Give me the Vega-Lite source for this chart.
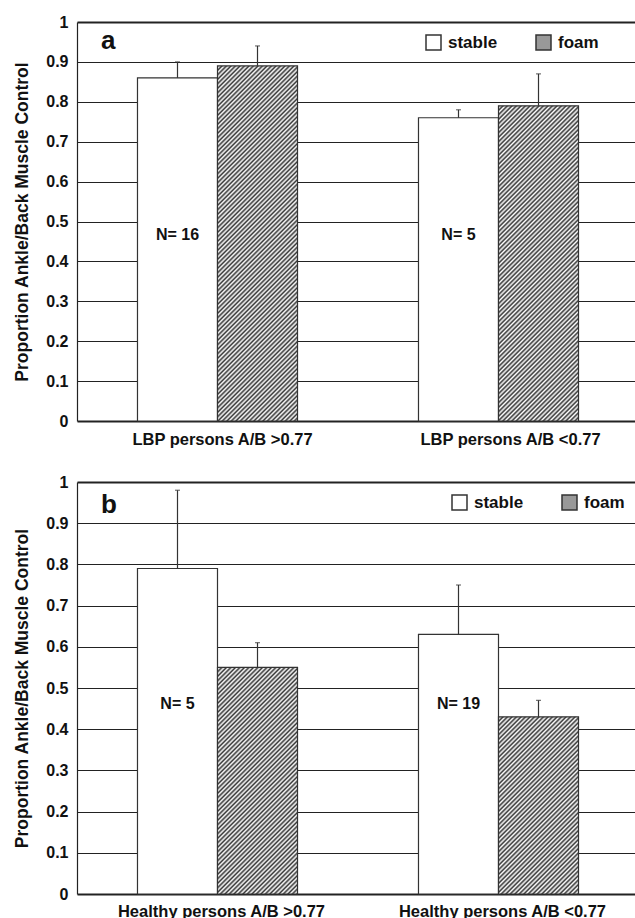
{
"$schema": "https://vega.github.io/schema/vega-lite/v6.json",
"padding": {"left": 13, "top": 14, "right": 0, "bottom": 0},
"background": "white",
"spacing": 26,
"config": {"view": {"stroke": null}, "font": "Liberation Sans", "axis": {"labelFont": "Liberation Sans", "titleFont": "Liberation Sans", "labelLimit": 400}, "legend": {"labelFont": "Liberation Sans"}, "text": {"font": "Liberation Sans"}},
"resolve": {"scale": {"x": "independent", "y": "independent", "fill": "independent"}, "legend": {"fill": "independent"}},
"vconcat": [
{
"width": 558, "height": 399,
"data": {"values": [
{"group": "LBP persons A/B >0.77", "condition": "stable", "mean": 0.86, "upper": 0.90, "n": "N= 16", "panel": "a"},
{"group": "LBP persons A/B >0.77", "condition": "foam", "mean": 0.89, "upper": 0.94, "panel": "a"},
{"group": "LBP persons A/B <0.77", "condition": "stable", "mean": 0.76, "upper": 0.78, "n": "N= 5", "panel": "a"},
{"group": "LBP persons A/B <0.77", "condition": "foam", "mean": 0.79, "upper": 0.87, "panel": "a"}
]},
"encoding": {
"x": {"field": "group", "type": "nominal", "scale": {"domain": ["LBP persons A/B >0.77", "LBP persons A/B <0.77"], "range": [0, 562], "paddingInner": 0, "paddingOuter": 0}, "axis": {"title": null, "domain": false, "ticks": false, "grid": false, "labelAngle": 0, "labelFontSize": 16.5, "labelFontWeight": "bold", "labelColor": "#111", "labelPadding": 10, "labelLimit": 400, "labelOffset": {"condition": {"test": "datum.value == 'LBP persons A/B <0.77'", "value": 12}, "value": 5}}},
"y": {"field": "mean", "type": "quantitative", "scale": {"domain": [0, 1], "nice": false}, "axis": {"title": "Proportion Ankle/Back Muscle Control", "values": [0, 0.1, 0.2, 0.3, 0.4, 0.5, 0.6, 0.7, 0.8, 0.9, 1], "format": ".1~f", "ticks": false, "domainColor": "#222", "domainWidth": 1.2, "grid": true, "gridColor": "#222", "gridWidth": {"condition": {"test": "datum.value == 0 || datum.value == 1", "value": 2}, "value": 1}, "labelFontSize": 16, "labelFontWeight": "bold", "labelColor": "#111", "labelPadding": 9, "titleFontSize": 17.5, "titleFontWeight": "bold", "titleColor": "#111", "titlePadding": 14}}
},
"layer": [
{"transform": [{"filter": "datum.condition == 'stable'"}], "mark": {"type": "bar", "stroke": "#333", "strokeWidth": 1.2},
 "encoding": {"xOffset": {"field": "condition", "type": "nominal", "scale": {"domain": ["stable", "foam"], "paddingInner": 0, "paddingOuter": 0.756}},
 "fill": {"field": "condition", "type": "nominal", "scale": {"domain": ["stable", "foam"], "range": ["#ffffff", "#999999"]},
 "legend": {"title": null, "orient": "none", "legendX": 348, "legendY": 12, "direction": "horizontal", "symbolType": "square", "symbolSize": 225, "labelFontSize": 17, "labelFontWeight": "bold", "labelColor": "#111", "labelOffset": 6, "columnPadding": 35, "padding": 0,
 "encode": {"symbols": {"stroke": {"value": "#222"}, "strokeWidth": {"value": 1.2}, "fill": {"condition": {"test": "datum.value === 'foam'", "value": {"gradient": "linear", "x1": 0, "y1": 0, "x2": 15, "y2": 15, "stops": [{"offset":0,"color":"#333"},{"offset":0.005,"color":"#fff"},{"offset":0.01,"color":"#333"},{"offset":0.015,"color":"#fff"},{"offset":0.02,"color":"#333"},{"offset":0.025,"color":"#fff"},{"offset":0.03,"color":"#333"},{"offset":0.035,"color":"#fff"},{"offset":0.04,"color":"#333"},{"offset":0.045,"color":"#fff"},{"offset":0.05,"color":"#333"},{"offset":0.055,"color":"#fff"},{"offset":0.06,"color":"#333"},{"offset":0.065,"color":"#fff"},{"offset":0.07,"color":"#333"}]}}, "value": "#ffffff"}}}}}}},
{"transform": [{"filter": "datum.condition == 'foam' && datum.group == 'LBP persons A/B >0.77'"}], "mark": {"type": "bar", "stroke": "#333", "strokeWidth": 1.2, "fill": {"gradient": "linear", "x1": 0, "y1": 0, "x2": 0.2717, "y2": 1.206, "stops": [
{"offset":0,"color":"#333"},{"offset":0.005,"color":"#fff"},{"offset":0.01,"color":"#333"},{"offset":0.015,"color":"#fff"},{"offset":0.02,"color":"#333"},{"offset":0.025,"color":"#fff"},{"offset":0.03,"color":"#333"},{"offset":0.035,"color":"#fff"},{"offset":0.04,"color":"#333"},{"offset":0.045,"color":"#fff"},{"offset":0.05,"color":"#333"},{"offset":0.055,"color":"#fff"},{"offset":0.06,"color":"#333"},{"offset":0.065,"color":"#fff"},{"offset":0.07,"color":"#333"},{"offset":0.075,"color":"#fff"},{"offset":0.08,"color":"#333"},{"offset":0.085,"color":"#fff"},{"offset":0.09,"color":"#333"},{"offset":0.095,"color":"#fff"},
{"offset":0.1,"color":"#333"},{"offset":0.105,"color":"#fff"},{"offset":0.11,"color":"#333"},{"offset":0.115,"color":"#fff"},{"offset":0.12,"color":"#333"},{"offset":0.125,"color":"#fff"},{"offset":0.13,"color":"#333"},{"offset":0.135,"color":"#fff"},{"offset":0.14,"color":"#333"},{"offset":0.145,"color":"#fff"},{"offset":0.15,"color":"#333"},{"offset":0.155,"color":"#fff"},{"offset":0.16,"color":"#333"},{"offset":0.165,"color":"#fff"},{"offset":0.17,"color":"#333"},{"offset":0.175,"color":"#fff"},{"offset":0.18,"color":"#333"},{"offset":0.185,"color":"#fff"},{"offset":0.19,"color":"#333"},{"offset":0.195,"color":"#fff"},
{"offset":0.2,"color":"#333"},{"offset":0.205,"color":"#fff"},{"offset":0.21,"color":"#333"},{"offset":0.215,"color":"#fff"},{"offset":0.22,"color":"#333"},{"offset":0.225,"color":"#fff"},{"offset":0.23,"color":"#333"},{"offset":0.235,"color":"#fff"},{"offset":0.24,"color":"#333"},{"offset":0.245,"color":"#fff"},{"offset":0.25,"color":"#333"},{"offset":0.255,"color":"#fff"},{"offset":0.26,"color":"#333"},{"offset":0.265,"color":"#fff"},{"offset":0.27,"color":"#333"},{"offset":0.275,"color":"#fff"},{"offset":0.28,"color":"#333"},{"offset":0.285,"color":"#fff"},{"offset":0.29,"color":"#333"},{"offset":0.295,"color":"#fff"},
{"offset":0.3,"color":"#333"},{"offset":0.305,"color":"#fff"},{"offset":0.31,"color":"#333"},{"offset":0.315,"color":"#fff"},{"offset":0.32,"color":"#333"},{"offset":0.325,"color":"#fff"},{"offset":0.33,"color":"#333"},{"offset":0.335,"color":"#fff"},{"offset":0.34,"color":"#333"},{"offset":0.345,"color":"#fff"},{"offset":0.35,"color":"#333"},{"offset":0.355,"color":"#fff"},{"offset":0.36,"color":"#333"},{"offset":0.365,"color":"#fff"},{"offset":0.37,"color":"#333"},{"offset":0.375,"color":"#fff"},{"offset":0.38,"color":"#333"},{"offset":0.385,"color":"#fff"},{"offset":0.39,"color":"#333"},{"offset":0.395,"color":"#fff"},
{"offset":0.4,"color":"#333"},{"offset":0.405,"color":"#fff"},{"offset":0.41,"color":"#333"},{"offset":0.415,"color":"#fff"},{"offset":0.42,"color":"#333"},{"offset":0.425,"color":"#fff"},{"offset":0.43,"color":"#333"},{"offset":0.435,"color":"#fff"},{"offset":0.44,"color":"#333"},{"offset":0.445,"color":"#fff"},{"offset":0.45,"color":"#333"},{"offset":0.455,"color":"#fff"},{"offset":0.46,"color":"#333"},{"offset":0.465,"color":"#fff"},{"offset":0.47,"color":"#333"},{"offset":0.475,"color":"#fff"},{"offset":0.48,"color":"#333"},{"offset":0.485,"color":"#fff"},{"offset":0.49,"color":"#333"},{"offset":0.495,"color":"#fff"},
{"offset":0.5,"color":"#333"},{"offset":0.505,"color":"#fff"},{"offset":0.51,"color":"#333"},{"offset":0.515,"color":"#fff"},{"offset":0.52,"color":"#333"},{"offset":0.525,"color":"#fff"},{"offset":0.53,"color":"#333"},{"offset":0.535,"color":"#fff"},{"offset":0.54,"color":"#333"},{"offset":0.545,"color":"#fff"},{"offset":0.55,"color":"#333"},{"offset":0.555,"color":"#fff"},{"offset":0.56,"color":"#333"},{"offset":0.565,"color":"#fff"},{"offset":0.57,"color":"#333"},{"offset":0.575,"color":"#fff"},{"offset":0.58,"color":"#333"},{"offset":0.585,"color":"#fff"},{"offset":0.59,"color":"#333"},{"offset":0.595,"color":"#fff"},
{"offset":0.6,"color":"#333"},{"offset":0.605,"color":"#fff"},{"offset":0.61,"color":"#333"},{"offset":0.615,"color":"#fff"},{"offset":0.62,"color":"#333"},{"offset":0.625,"color":"#fff"},{"offset":0.63,"color":"#333"},{"offset":0.635,"color":"#fff"},{"offset":0.64,"color":"#333"},{"offset":0.645,"color":"#fff"},{"offset":0.65,"color":"#333"},{"offset":0.655,"color":"#fff"},{"offset":0.66,"color":"#333"},{"offset":0.665,"color":"#fff"},{"offset":0.67,"color":"#333"},{"offset":0.675,"color":"#fff"},{"offset":0.68,"color":"#333"},{"offset":0.685,"color":"#fff"},{"offset":0.69,"color":"#333"},{"offset":0.695,"color":"#fff"},
{"offset":0.7,"color":"#333"},{"offset":0.705,"color":"#fff"},{"offset":0.71,"color":"#333"},{"offset":0.715,"color":"#fff"},{"offset":0.72,"color":"#333"},{"offset":0.725,"color":"#fff"},{"offset":0.73,"color":"#333"},{"offset":0.735,"color":"#fff"},{"offset":0.74,"color":"#333"},{"offset":0.745,"color":"#fff"},{"offset":0.75,"color":"#333"},{"offset":0.755,"color":"#fff"},{"offset":0.76,"color":"#333"},{"offset":0.765,"color":"#fff"},{"offset":0.77,"color":"#333"},{"offset":0.775,"color":"#fff"},{"offset":0.78,"color":"#333"},{"offset":0.785,"color":"#fff"},{"offset":0.79,"color":"#333"},{"offset":0.795,"color":"#fff"},
{"offset":0.8,"color":"#333"},{"offset":0.805,"color":"#fff"},{"offset":0.81,"color":"#333"},{"offset":0.815,"color":"#fff"},{"offset":0.82,"color":"#333"},{"offset":0.825,"color":"#fff"},{"offset":0.83,"color":"#333"},{"offset":0.835,"color":"#fff"},{"offset":0.84,"color":"#333"},{"offset":0.845,"color":"#fff"},{"offset":0.85,"color":"#333"},{"offset":0.855,"color":"#fff"},{"offset":0.86,"color":"#333"},{"offset":0.865,"color":"#fff"},{"offset":0.87,"color":"#333"},{"offset":0.875,"color":"#fff"},{"offset":0.88,"color":"#333"},{"offset":0.885,"color":"#fff"},{"offset":0.89,"color":"#333"},{"offset":0.895,"color":"#fff"},
{"offset":0.9,"color":"#333"},{"offset":0.905,"color":"#fff"},{"offset":0.91,"color":"#333"},{"offset":0.915,"color":"#fff"},{"offset":0.92,"color":"#333"},{"offset":0.925,"color":"#fff"},{"offset":0.93,"color":"#333"},{"offset":0.935,"color":"#fff"},{"offset":0.94,"color":"#333"},{"offset":0.945,"color":"#fff"},{"offset":0.95,"color":"#333"},{"offset":0.955,"color":"#fff"},{"offset":0.96,"color":"#333"},{"offset":0.965,"color":"#fff"},{"offset":0.97,"color":"#333"},{"offset":0.975,"color":"#fff"}
]}}, "encoding": {"xOffset": {"field": "condition", "type": "nominal"}}},
{"transform": [{"filter": "datum.condition == 'foam' && datum.group == 'LBP persons A/B <0.77'"}], "mark": {"type": "bar", "stroke": "#333", "strokeWidth": 1.2, "fill": {"gradient": "linear", "x1": 0, "y1": 0, "x2": 0.3404, "y2": 1.3412, "stops": [
{"offset":0,"color":"#333"},{"offset":0.005,"color":"#fff"},{"offset":0.01,"color":"#333"},{"offset":0.015,"color":"#fff"},{"offset":0.02,"color":"#333"},{"offset":0.025,"color":"#fff"},{"offset":0.03,"color":"#333"},{"offset":0.035,"color":"#fff"},{"offset":0.04,"color":"#333"},{"offset":0.045,"color":"#fff"},{"offset":0.05,"color":"#333"},{"offset":0.055,"color":"#fff"},{"offset":0.06,"color":"#333"},{"offset":0.065,"color":"#fff"},{"offset":0.07,"color":"#333"},{"offset":0.075,"color":"#fff"},{"offset":0.08,"color":"#333"},{"offset":0.085,"color":"#fff"},{"offset":0.09,"color":"#333"},{"offset":0.095,"color":"#fff"},
{"offset":0.1,"color":"#333"},{"offset":0.105,"color":"#fff"},{"offset":0.11,"color":"#333"},{"offset":0.115,"color":"#fff"},{"offset":0.12,"color":"#333"},{"offset":0.125,"color":"#fff"},{"offset":0.13,"color":"#333"},{"offset":0.135,"color":"#fff"},{"offset":0.14,"color":"#333"},{"offset":0.145,"color":"#fff"},{"offset":0.15,"color":"#333"},{"offset":0.155,"color":"#fff"},{"offset":0.16,"color":"#333"},{"offset":0.165,"color":"#fff"},{"offset":0.17,"color":"#333"},{"offset":0.175,"color":"#fff"},{"offset":0.18,"color":"#333"},{"offset":0.185,"color":"#fff"},{"offset":0.19,"color":"#333"},{"offset":0.195,"color":"#fff"},
{"offset":0.2,"color":"#333"},{"offset":0.205,"color":"#fff"},{"offset":0.21,"color":"#333"},{"offset":0.215,"color":"#fff"},{"offset":0.22,"color":"#333"},{"offset":0.225,"color":"#fff"},{"offset":0.23,"color":"#333"},{"offset":0.235,"color":"#fff"},{"offset":0.24,"color":"#333"},{"offset":0.245,"color":"#fff"},{"offset":0.25,"color":"#333"},{"offset":0.255,"color":"#fff"},{"offset":0.26,"color":"#333"},{"offset":0.265,"color":"#fff"},{"offset":0.27,"color":"#333"},{"offset":0.275,"color":"#fff"},{"offset":0.28,"color":"#333"},{"offset":0.285,"color":"#fff"},{"offset":0.29,"color":"#333"},{"offset":0.295,"color":"#fff"},
{"offset":0.3,"color":"#333"},{"offset":0.305,"color":"#fff"},{"offset":0.31,"color":"#333"},{"offset":0.315,"color":"#fff"},{"offset":0.32,"color":"#333"},{"offset":0.325,"color":"#fff"},{"offset":0.33,"color":"#333"},{"offset":0.335,"color":"#fff"},{"offset":0.34,"color":"#333"},{"offset":0.345,"color":"#fff"},{"offset":0.35,"color":"#333"},{"offset":0.355,"color":"#fff"},{"offset":0.36,"color":"#333"},{"offset":0.365,"color":"#fff"},{"offset":0.37,"color":"#333"},{"offset":0.375,"color":"#fff"},{"offset":0.38,"color":"#333"},{"offset":0.385,"color":"#fff"},{"offset":0.39,"color":"#333"},{"offset":0.395,"color":"#fff"},
{"offset":0.4,"color":"#333"},{"offset":0.405,"color":"#fff"},{"offset":0.41,"color":"#333"},{"offset":0.415,"color":"#fff"},{"offset":0.42,"color":"#333"},{"offset":0.425,"color":"#fff"},{"offset":0.43,"color":"#333"},{"offset":0.435,"color":"#fff"},{"offset":0.44,"color":"#333"},{"offset":0.445,"color":"#fff"},{"offset":0.45,"color":"#333"},{"offset":0.455,"color":"#fff"},{"offset":0.46,"color":"#333"},{"offset":0.465,"color":"#fff"},{"offset":0.47,"color":"#333"},{"offset":0.475,"color":"#fff"},{"offset":0.48,"color":"#333"},{"offset":0.485,"color":"#fff"},{"offset":0.49,"color":"#333"},{"offset":0.495,"color":"#fff"},
{"offset":0.5,"color":"#333"},{"offset":0.505,"color":"#fff"},{"offset":0.51,"color":"#333"},{"offset":0.515,"color":"#fff"},{"offset":0.52,"color":"#333"},{"offset":0.525,"color":"#fff"},{"offset":0.53,"color":"#333"},{"offset":0.535,"color":"#fff"},{"offset":0.54,"color":"#333"},{"offset":0.545,"color":"#fff"},{"offset":0.55,"color":"#333"},{"offset":0.555,"color":"#fff"},{"offset":0.56,"color":"#333"},{"offset":0.565,"color":"#fff"},{"offset":0.57,"color":"#333"},{"offset":0.575,"color":"#fff"},{"offset":0.58,"color":"#333"},{"offset":0.585,"color":"#fff"},{"offset":0.59,"color":"#333"},{"offset":0.595,"color":"#fff"},
{"offset":0.6,"color":"#333"},{"offset":0.605,"color":"#fff"},{"offset":0.61,"color":"#333"},{"offset":0.615,"color":"#fff"},{"offset":0.62,"color":"#333"},{"offset":0.625,"color":"#fff"},{"offset":0.63,"color":"#333"},{"offset":0.635,"color":"#fff"},{"offset":0.64,"color":"#333"},{"offset":0.645,"color":"#fff"},{"offset":0.65,"color":"#333"},{"offset":0.655,"color":"#fff"},{"offset":0.66,"color":"#333"},{"offset":0.665,"color":"#fff"},{"offset":0.67,"color":"#333"},{"offset":0.675,"color":"#fff"},{"offset":0.68,"color":"#333"},{"offset":0.685,"color":"#fff"},{"offset":0.69,"color":"#333"},{"offset":0.695,"color":"#fff"},
{"offset":0.7,"color":"#333"},{"offset":0.705,"color":"#fff"},{"offset":0.71,"color":"#333"},{"offset":0.715,"color":"#fff"},{"offset":0.72,"color":"#333"},{"offset":0.725,"color":"#fff"},{"offset":0.73,"color":"#333"},{"offset":0.735,"color":"#fff"},{"offset":0.74,"color":"#333"},{"offset":0.745,"color":"#fff"},{"offset":0.75,"color":"#333"},{"offset":0.755,"color":"#fff"},{"offset":0.76,"color":"#333"},{"offset":0.765,"color":"#fff"},{"offset":0.77,"color":"#333"},{"offset":0.775,"color":"#fff"},{"offset":0.78,"color":"#333"},{"offset":0.785,"color":"#fff"},{"offset":0.79,"color":"#333"},{"offset":0.795,"color":"#fff"},
{"offset":0.8,"color":"#333"},{"offset":0.805,"color":"#fff"},{"offset":0.81,"color":"#333"},{"offset":0.815,"color":"#fff"},{"offset":0.82,"color":"#333"},{"offset":0.825,"color":"#fff"},{"offset":0.83,"color":"#333"},{"offset":0.835,"color":"#fff"},{"offset":0.84,"color":"#333"},{"offset":0.845,"color":"#fff"},{"offset":0.85,"color":"#333"},{"offset":0.855,"color":"#fff"},{"offset":0.86,"color":"#333"},{"offset":0.865,"color":"#fff"},{"offset":0.87,"color":"#333"},{"offset":0.875,"color":"#fff"},{"offset":0.88,"color":"#333"},{"offset":0.885,"color":"#fff"}
]}}, "encoding": {"xOffset": {"field": "condition", "type": "nominal"}}},
{"mark": {"type": "rule", "color": "#333", "strokeWidth": 1.2}, "encoding": {"xOffset": {"field": "condition", "type": "nominal"}, "y": {"field": "mean", "type": "quantitative"}, "y2": {"field": "upper"}}},
{"mark": {"type": "tick", "color": "#333", "size": 5, "thickness": 1.2, "orient": "horizontal"}, "encoding": {"xOffset": {"field": "condition", "type": "nominal"}, "y": {"field": "upper", "type": "quantitative"}}},
{"transform": [{"filter": "isValid(datum.n)"}], "mark": {"type": "text", "fontSize": 16, "fontWeight": "bold", "color": "#111"}, "encoding": {"xOffset": {"field": "condition", "type": "nominal"}, "y": {"datum": 0.465}, "text": {"field": "n"}}},
{"transform": [{"filter": "datum.condition == 'stable' && datum.group == 'LBP persons A/B >0.77'"}], "mark": {"type": "text", "fontSize": 26, "fontWeight": "bold", "color": "#111", "align": "left", "baseline": "alphabetic"}, "encoding": {"x": {"field": "group", "type": "nominal", "bandPosition": 0.0854}, "y": {"datum": 0.932}, "text": {"field": "panel"}}}
]
},
{
"width": 558, "height": 412,
"data": {"values": [
{"group": "Healthy persons A/B >0.77", "condition": "stable", "mean": 0.79, "upper": 0.98, "n": "N= 5", "panel": "b"},
{"group": "Healthy persons A/B >0.77", "condition": "foam", "mean": 0.55, "upper": 0.61, "panel": "b"},
{"group": "Healthy persons A/B <0.77", "condition": "stable", "mean": 0.63, "upper": 0.75, "n": "N= 19", "panel": "b"},
{"group": "Healthy persons A/B <0.77", "condition": "foam", "mean": 0.43, "upper": 0.47, "panel": "b"}
]},
"encoding": {
"x": {"field": "group", "type": "nominal", "scale": {"domain": ["Healthy persons A/B >0.77", "Healthy persons A/B <0.77"], "range": [0, 562], "paddingInner": 0, "paddingOuter": 0}, "axis": {"title": null, "domain": false, "ticks": false, "grid": false, "labelAngle": 0, "labelFontSize": 16.5, "labelFontWeight": "bold", "labelColor": "#111", "labelPadding": 9, "labelLimit": 400, "labelOffset": 4}},
"y": {"field": "mean", "type": "quantitative", "scale": {"domain": [0, 1], "nice": false}, "axis": {"title": "Proportion Ankle/Back Muscle Control", "values": [0, 0.1, 0.2, 0.3, 0.4, 0.5, 0.6, 0.7, 0.8, 0.9, 1], "format": ".1~f", "ticks": false, "domainColor": "#222", "domainWidth": 1.2, "grid": true, "gridColor": "#222", "gridWidth": {"condition": {"test": "datum.value == 0 || datum.value == 1", "value": 2}, "value": 1}, "labelFontSize": 16, "labelFontWeight": "bold", "labelColor": "#111", "labelPadding": 9, "titleFontSize": 17.5, "titleFontWeight": "bold", "titleColor": "#111", "titlePadding": 14}}
},
"layer": [
{"transform": [{"filter": "datum.condition == 'stable'"}], "mark": {"type": "bar", "stroke": "#333", "strokeWidth": 1.2},
 "encoding": {"xOffset": {"field": "condition", "type": "nominal", "scale": {"domain": ["stable", "foam"], "paddingInner": 0, "paddingOuter": 0.756}},
 "fill": {"field": "condition", "type": "nominal", "scale": {"domain": ["stable", "foam"], "range": ["#ffffff", "#999999"]},
 "legend": {"title": null, "orient": "none", "legendX": 374, "legendY": 12, "direction": "horizontal", "symbolType": "square", "symbolSize": 225, "labelFontSize": 17, "labelFontWeight": "bold", "labelColor": "#111", "labelOffset": 6, "columnPadding": 35, "padding": 0,
 "encode": {"symbols": {"stroke": {"value": "#222"}, "strokeWidth": {"value": 1.2}, "fill": {"condition": {"test": "datum.value === 'foam'", "value": {"gradient": "linear", "x1": 0, "y1": 0, "x2": 15, "y2": 15, "stops": [{"offset":0,"color":"#333"},{"offset":0.005,"color":"#fff"},{"offset":0.01,"color":"#333"},{"offset":0.015,"color":"#fff"},{"offset":0.02,"color":"#333"},{"offset":0.025,"color":"#fff"},{"offset":0.03,"color":"#333"},{"offset":0.035,"color":"#fff"},{"offset":0.04,"color":"#333"},{"offset":0.045,"color":"#fff"},{"offset":0.05,"color":"#333"},{"offset":0.055,"color":"#fff"},{"offset":0.06,"color":"#333"},{"offset":0.065,"color":"#fff"},{"offset":0.07,"color":"#333"}]}}, "value": "#ffffff"}}}}}}},
{"transform": [{"filter": "datum.condition == 'foam' && datum.group == 'Healthy persons A/B >0.77'"}], "mark": {"type": "bar", "stroke": "#333", "strokeWidth": 1.2, "fill": {"gradient": "linear", "x1": 0, "y1": 0, "x2": 0.6234, "y2": 1.7658, "stops": [
{"offset":0,"color":"#333"},{"offset":0.005,"color":"#fff"},{"offset":0.01,"color":"#333"},{"offset":0.015,"color":"#fff"},{"offset":0.02,"color":"#333"},{"offset":0.025,"color":"#fff"},{"offset":0.03,"color":"#333"},{"offset":0.035,"color":"#fff"},{"offset":0.04,"color":"#333"},{"offset":0.045,"color":"#fff"},{"offset":0.05,"color":"#333"},{"offset":0.055,"color":"#fff"},{"offset":0.06,"color":"#333"},{"offset":0.065,"color":"#fff"},{"offset":0.07,"color":"#333"},{"offset":0.075,"color":"#fff"},{"offset":0.08,"color":"#333"},{"offset":0.085,"color":"#fff"},{"offset":0.09,"color":"#333"},{"offset":0.095,"color":"#fff"},
{"offset":0.1,"color":"#333"},{"offset":0.105,"color":"#fff"},{"offset":0.11,"color":"#333"},{"offset":0.115,"color":"#fff"},{"offset":0.12,"color":"#333"},{"offset":0.125,"color":"#fff"},{"offset":0.13,"color":"#333"},{"offset":0.135,"color":"#fff"},{"offset":0.14,"color":"#333"},{"offset":0.145,"color":"#fff"},{"offset":0.15,"color":"#333"},{"offset":0.155,"color":"#fff"},{"offset":0.16,"color":"#333"},{"offset":0.165,"color":"#fff"},{"offset":0.17,"color":"#333"},{"offset":0.175,"color":"#fff"},{"offset":0.18,"color":"#333"},{"offset":0.185,"color":"#fff"},{"offset":0.19,"color":"#333"},{"offset":0.195,"color":"#fff"},
{"offset":0.2,"color":"#333"},{"offset":0.205,"color":"#fff"},{"offset":0.21,"color":"#333"},{"offset":0.215,"color":"#fff"},{"offset":0.22,"color":"#333"},{"offset":0.225,"color":"#fff"},{"offset":0.23,"color":"#333"},{"offset":0.235,"color":"#fff"},{"offset":0.24,"color":"#333"},{"offset":0.245,"color":"#fff"},{"offset":0.25,"color":"#333"},{"offset":0.255,"color":"#fff"},{"offset":0.26,"color":"#333"},{"offset":0.265,"color":"#fff"},{"offset":0.27,"color":"#333"},{"offset":0.275,"color":"#fff"},{"offset":0.28,"color":"#333"},{"offset":0.285,"color":"#fff"},{"offset":0.29,"color":"#333"},{"offset":0.295,"color":"#fff"},
{"offset":0.3,"color":"#333"},{"offset":0.305,"color":"#fff"},{"offset":0.31,"color":"#333"},{"offset":0.315,"color":"#fff"},{"offset":0.32,"color":"#333"},{"offset":0.325,"color":"#fff"},{"offset":0.33,"color":"#333"},{"offset":0.335,"color":"#fff"},{"offset":0.34,"color":"#333"},{"offset":0.345,"color":"#fff"},{"offset":0.35,"color":"#333"},{"offset":0.355,"color":"#fff"},{"offset":0.36,"color":"#333"},{"offset":0.365,"color":"#fff"},{"offset":0.37,"color":"#333"},{"offset":0.375,"color":"#fff"},{"offset":0.38,"color":"#333"},{"offset":0.385,"color":"#fff"},{"offset":0.39,"color":"#333"},{"offset":0.395,"color":"#fff"},
{"offset":0.4,"color":"#333"},{"offset":0.405,"color":"#fff"},{"offset":0.41,"color":"#333"},{"offset":0.415,"color":"#fff"},{"offset":0.42,"color":"#333"},{"offset":0.425,"color":"#fff"},{"offset":0.43,"color":"#333"},{"offset":0.435,"color":"#fff"},{"offset":0.44,"color":"#333"},{"offset":0.445,"color":"#fff"},{"offset":0.45,"color":"#333"},{"offset":0.455,"color":"#fff"},{"offset":0.46,"color":"#333"},{"offset":0.465,"color":"#fff"},{"offset":0.47,"color":"#333"},{"offset":0.475,"color":"#fff"},{"offset":0.48,"color":"#333"},{"offset":0.485,"color":"#fff"},{"offset":0.49,"color":"#333"},{"offset":0.495,"color":"#fff"},
{"offset":0.5,"color":"#333"},{"offset":0.505,"color":"#fff"},{"offset":0.51,"color":"#333"},{"offset":0.515,"color":"#fff"},{"offset":0.52,"color":"#333"},{"offset":0.525,"color":"#fff"},{"offset":0.53,"color":"#333"},{"offset":0.535,"color":"#fff"},{"offset":0.54,"color":"#333"},{"offset":0.545,"color":"#fff"},{"offset":0.55,"color":"#333"},{"offset":0.555,"color":"#fff"},{"offset":0.56,"color":"#333"},{"offset":0.565,"color":"#fff"},{"offset":0.57,"color":"#333"},{"offset":0.575,"color":"#fff"},{"offset":0.58,"color":"#333"},{"offset":0.585,"color":"#fff"},{"offset":0.59,"color":"#333"},{"offset":0.595,"color":"#fff"},
{"offset":0.6,"color":"#333"},{"offset":0.605,"color":"#fff"},{"offset":0.61,"color":"#333"},{"offset":0.615,"color":"#fff"},{"offset":0.62,"color":"#333"},{"offset":0.625,"color":"#fff"},{"offset":0.63,"color":"#333"},{"offset":0.635,"color":"#fff"},{"offset":0.64,"color":"#333"},{"offset":0.645,"color":"#fff"},{"offset":0.65,"color":"#333"},{"offset":0.655,"color":"#fff"},{"offset":0.66,"color":"#333"},{"offset":0.665,"color":"#fff"},{"offset":0.67,"color":"#333"},{"offset":0.675,"color":"#fff"},{"offset":0.68,"color":"#333"},{"offset":0.685,"color":"#fff"},{"offset":0.69,"color":"#333"}
]}}, "encoding": {"xOffset": {"field": "condition", "type": "nominal"}}},
{"transform": [{"filter": "datum.condition == 'foam' && datum.group == 'Healthy persons A/B <0.77'"}], "mark": {"type": "bar", "stroke": "#333", "strokeWidth": 1.2, "fill": {"gradient": "linear", "x1": 0, "y1": 0, "x2": 0.9527, "y2": 2.1098, "stops": [
{"offset":0,"color":"#333"},{"offset":0.005,"color":"#fff"},{"offset":0.01,"color":"#333"},{"offset":0.015,"color":"#fff"},{"offset":0.02,"color":"#333"},{"offset":0.025,"color":"#fff"},{"offset":0.03,"color":"#333"},{"offset":0.035,"color":"#fff"},{"offset":0.04,"color":"#333"},{"offset":0.045,"color":"#fff"},{"offset":0.05,"color":"#333"},{"offset":0.055,"color":"#fff"},{"offset":0.06,"color":"#333"},{"offset":0.065,"color":"#fff"},{"offset":0.07,"color":"#333"},{"offset":0.075,"color":"#fff"},{"offset":0.08,"color":"#333"},{"offset":0.085,"color":"#fff"},{"offset":0.09,"color":"#333"},{"offset":0.095,"color":"#fff"},
{"offset":0.1,"color":"#333"},{"offset":0.105,"color":"#fff"},{"offset":0.11,"color":"#333"},{"offset":0.115,"color":"#fff"},{"offset":0.12,"color":"#333"},{"offset":0.125,"color":"#fff"},{"offset":0.13,"color":"#333"},{"offset":0.135,"color":"#fff"},{"offset":0.14,"color":"#333"},{"offset":0.145,"color":"#fff"},{"offset":0.15,"color":"#333"},{"offset":0.155,"color":"#fff"},{"offset":0.16,"color":"#333"},{"offset":0.165,"color":"#fff"},{"offset":0.17,"color":"#333"},{"offset":0.175,"color":"#fff"},{"offset":0.18,"color":"#333"},{"offset":0.185,"color":"#fff"},{"offset":0.19,"color":"#333"},{"offset":0.195,"color":"#fff"},
{"offset":0.2,"color":"#333"},{"offset":0.205,"color":"#fff"},{"offset":0.21,"color":"#333"},{"offset":0.215,"color":"#fff"},{"offset":0.22,"color":"#333"},{"offset":0.225,"color":"#fff"},{"offset":0.23,"color":"#333"},{"offset":0.235,"color":"#fff"},{"offset":0.24,"color":"#333"},{"offset":0.245,"color":"#fff"},{"offset":0.25,"color":"#333"},{"offset":0.255,"color":"#fff"},{"offset":0.26,"color":"#333"},{"offset":0.265,"color":"#fff"},{"offset":0.27,"color":"#333"},{"offset":0.275,"color":"#fff"},{"offset":0.28,"color":"#333"},{"offset":0.285,"color":"#fff"},{"offset":0.29,"color":"#333"},{"offset":0.295,"color":"#fff"},
{"offset":0.3,"color":"#333"},{"offset":0.305,"color":"#fff"},{"offset":0.31,"color":"#333"},{"offset":0.315,"color":"#fff"},{"offset":0.32,"color":"#333"},{"offset":0.325,"color":"#fff"},{"offset":0.33,"color":"#333"},{"offset":0.335,"color":"#fff"},{"offset":0.34,"color":"#333"},{"offset":0.345,"color":"#fff"},{"offset":0.35,"color":"#333"},{"offset":0.355,"color":"#fff"},{"offset":0.36,"color":"#333"},{"offset":0.365,"color":"#fff"},{"offset":0.37,"color":"#333"},{"offset":0.375,"color":"#fff"},{"offset":0.38,"color":"#333"},{"offset":0.385,"color":"#fff"},{"offset":0.39,"color":"#333"},{"offset":0.395,"color":"#fff"},
{"offset":0.4,"color":"#333"},{"offset":0.405,"color":"#fff"},{"offset":0.41,"color":"#333"},{"offset":0.415,"color":"#fff"},{"offset":0.42,"color":"#333"},{"offset":0.425,"color":"#fff"},{"offset":0.43,"color":"#333"},{"offset":0.435,"color":"#fff"},{"offset":0.44,"color":"#333"},{"offset":0.445,"color":"#fff"},{"offset":0.45,"color":"#333"},{"offset":0.455,"color":"#fff"},{"offset":0.46,"color":"#333"},{"offset":0.465,"color":"#fff"},{"offset":0.47,"color":"#333"},{"offset":0.475,"color":"#fff"},{"offset":0.48,"color":"#333"},{"offset":0.485,"color":"#fff"},{"offset":0.49,"color":"#333"},{"offset":0.495,"color":"#fff"},
{"offset":0.5,"color":"#333"},{"offset":0.505,"color":"#fff"},{"offset":0.51,"color":"#333"},{"offset":0.515,"color":"#fff"},{"offset":0.52,"color":"#333"},{"offset":0.525,"color":"#fff"},{"offset":0.53,"color":"#333"},{"offset":0.535,"color":"#fff"},{"offset":0.54,"color":"#333"},{"offset":0.545,"color":"#fff"},{"offset":0.55,"color":"#333"},{"offset":0.555,"color":"#fff"},{"offset":0.56,"color":"#333"},{"offset":0.565,"color":"#fff"},{"offset":0.57,"color":"#333"},{"offset":0.575,"color":"#fff"},{"offset":0.58,"color":"#333"}
]}}, "encoding": {"xOffset": {"field": "condition", "type": "nominal"}}},
{"mark": {"type": "rule", "color": "#333", "strokeWidth": 1.2}, "encoding": {"xOffset": {"field": "condition", "type": "nominal"}, "y": {"field": "mean", "type": "quantitative"}, "y2": {"field": "upper"}}},
{"mark": {"type": "tick", "color": "#333", "size": 5, "thickness": 1.2, "orient": "horizontal"}, "encoding": {"xOffset": {"field": "condition", "type": "nominal"}, "y": {"field": "upper", "type": "quantitative"}}},
{"transform": [{"filter": "isValid(datum.n)"}], "mark": {"type": "text", "fontSize": 16, "fontWeight": "bold", "color": "#111"}, "encoding": {"xOffset": {"field": "condition", "type": "nominal"}, "y": {"datum": 0.461}, "text": {"field": "n"}}},
{"transform": [{"filter": "datum.condition == 'stable' && datum.group == 'Healthy persons A/B >0.77'"}], "mark": {"type": "text", "fontSize": 26, "fontWeight": "bold", "color": "#111", "align": "left", "baseline": "alphabetic"}, "encoding": {"x": {"field": "group", "type": "nominal", "bandPosition": 0.0854}, "y": {"datum": 0.925}, "text": {"field": "panel"}}}
]
}
]
}
